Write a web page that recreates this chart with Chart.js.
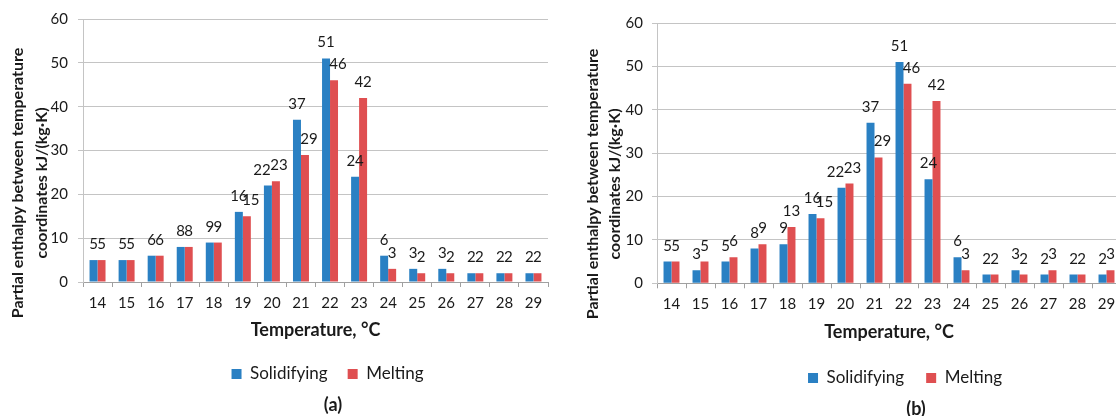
<!DOCTYPE html>
<html><head><meta charset="utf-8">
<script src="https://cdn.jsdelivr.net/npm/chart.js@4"></script>
<style>
html,body{margin:0;padding:0;background:#fff;overflow:hidden;}
#wrap{position:relative;width:1116px;height:416px;overflow:hidden;background:#fff;}
#ca{position:absolute;left:0;top:0;}
#cb{position:absolute;left:556px;top:0;}
</style></head><body>
<div id="wrap"><canvas id="ca" width="556" height="416"></canvas><canvas id="cb" width="580" height="420"></canvas></div>
<script>
const categories = ['14','15','16','17','18','19','20','21','22','23','24','25','26','27','28','29'];
const solidifyingA = [5,5,6,8,9,16,22,37,51,24,6,3,3,2,2,2];
const meltingA     = [5,5,6,8,9,15,23,29,46,42,3,2,2,2,2,2];
const solidifyingB = [5,3,5,8,9,16,22,37,51,24,6,2,3,2,2,2];
const meltingB     = [5,5,6,9,13,15,23,29,46,42,3,2,2,3,2,3];
const yTicks = [0,10,20,30,40,50,60];
const seriesNames = ['Solidifying','Melting'];
const yTitleLines = ['Partial enthalpy between temperature','coordinates kJ/(kg·K)'];
const xTitle = 'Temperature, °C';
const captions = ['(a)','(b)'];

Chart.defaults.font.family = 'Lato';
const BLUE = '#2A80C3', RED = '#DF4F51', TXT = '#1a1a1a';

const valueLabels = {
  id: 'valueLabels',
  afterDatasetsDraw(chart) {
    const ctx = chart.ctx;
    const m0 = chart.getDatasetMeta(0), m1 = chart.getDatasetMeta(1);
    const d0 = chart.data.datasets[0].data, d1 = chart.data.datasets[1].data;
    ctx.save();
    ctx.font = '15px Lato'; ctx.fillStyle = TXT;
    ctx.textAlign = 'center'; ctx.textBaseline = 'alphabetic';
    const gap = 11, th = 11;
    for (let i = 0; i < d0.length; i++) {
      const b0 = m0.data[i], b1 = m1.data[i];
      const t0 = String(d0[i]), t1 = String(d1[i]);
      const w0 = ctx.measureText(t0).width, w1 = ctx.measureText(t1).width;
      let x0 = b0.x, x1 = b1.x;
      const y0 = b0.y - gap, y1 = b1.y - gap;
      const hOv = (x0 + w0/2) - (x1 - w1/2) > 1.5;
      const vOv = Math.abs(y0 - y1) < th;
      const labelsOverlap = hOv && vOv;
      const hitsBar = (x1 - w1/2) < (b0.x + b0.width/2) - 1.5 && y1 > b0.y;
      if (d1[i] > d0[i]) { if (labelsOverlap) { x0 -= 6; x1 += 3; } }
      else if (labelsOverlap || hitsBar) { x1 += 4; }
      ctx.fillText(t0, x0, y0);
      ctx.fillText(t1, x1, y1);
    }
    ctx.restore();
  }
};

const yTitlePlugin = {
  id: 'yTitleDraw',
  afterDraw(chart, args, opts) {
    const ctx = chart.ctx;
    ctx.save();
    ctx.font = 'bold 16px Lato'; ctx.fillStyle = TXT;
    ctx.textAlign = 'center'; ctx.textBaseline = 'middle';
    opts.lines.forEach((t, k) => {
      ctx.save();
      ctx.translate(opts.xs[k], opts.y);
      ctx.rotate(-Math.PI/2);
      ctx.fillText(t, 0, 0);
      ctx.restore();
    });
    ctx.restore();
  }
};

const placeBoxes = {
  id: 'placeBoxes',
  beforeDraw(chart, args, opts) {
    const lg = chart.legend;
    if (lg) { const w = lg.right - lg.left; lg.left = opts.legendCenter - w/2; lg.right = lg.left + w; }
    const tb = chart.titleBlock;
    if (tb) { const w = tb.right - tb.left; tb.left = opts.captionCenter - w/2; tb.right = tb.left + w; }
  }
};

function makeChart(canvas, solid, melt, caption, L) {
  return new Chart(canvas, {
    type: 'bar',
    data: {
      labels: categories,
      datasets: [
        { label: seriesNames[0], data: solid, backgroundColor: BLUE, borderWidth: 0, categoryPercentage: 0.55, barPercentage: 1 },
        { label: seriesNames[1], data: melt, backgroundColor: RED, borderWidth: 0, categoryPercentage: 0.55, barPercentage: 1 }
      ]
    },
    options: {
      responsive: false, animation: false, devicePixelRatio: 1,
      layout: { padding: { left: 0, top: L.top, right: L.right, bottom: 0 } },
      scales: {
        x: {
          grid: { offset: true, drawOnChartArea: false, drawTicks: true, tickLength: 5, tickColor: '#a0a0a0' },
          border: { color: '#a0a0a0' },
          ticks: { color: TXT, font: { size: 15 }, padding: L.xPad, maxRotation: 0 },
          title: { display: true, text: xTitle, color: TXT, font: { size: 18, weight: 'bold' }, padding: { top: 0, bottom: L.xtb } },
          afterFit(s) { s.height = L.xH; }
        },
        y: {
          min: yTicks[0], max: yTicks[yTicks.length-1],
          ticks: { stepSize: yTicks[1]-yTicks[0], color: TXT, font: { size: 15 }, padding: L.yPad },
          grid: { color: '#c4c4c4', tickColor: '#c4c4c4', tickLength: 5 },
          border: { color: '#c4c4c4' },
          afterFit(s) { s.width = L.yW; }
        }
      },
      plugins: {
        legend: { position: 'bottom', labels: { boxWidth: 10, boxHeight: 10, padding: L.lp, color: TXT, font: { size: 17 } } },
        title: { display: true, position: 'bottom', text: caption, color: TXT, font: { size: 18, weight: 'bold' }, padding: { top: L.tp, bottom: 0 } },
        tooltip: { enabled: false },
        yTitleDraw: { lines: yTitleLines, xs: L.yxs, y: L.yy },
        placeBoxes: { legendCenter: L.lc, captionCenter: L.cc }
      }
    },
    plugins: [valueLabels, yTitlePlugin, placeBoxes]
  });
}

makeChart(document.getElementById('ca'), solidifyingA, meltingA, captions[0],
  { top: 18, right: 8, xH: 63.5, xPad: 7, xtb: 4.7, yW: 83, yPad: 10, lp: 20, tp: 1.9, yxs: [18, 42], yy: 183, lc: 327.5, cc: 333 });
makeChart(document.getElementById('cb'), solidifyingB, meltingB, captions[1],
  { top: 23, right: 15, xH: 64.2, xPad: 7, xtb: 4.6, yW: 101, yPad: 9, lp: 22, tp: 1.9, yxs: [37, 59], yy: 184, lc: 349, cc: 360 });
</script>
</body></html>
